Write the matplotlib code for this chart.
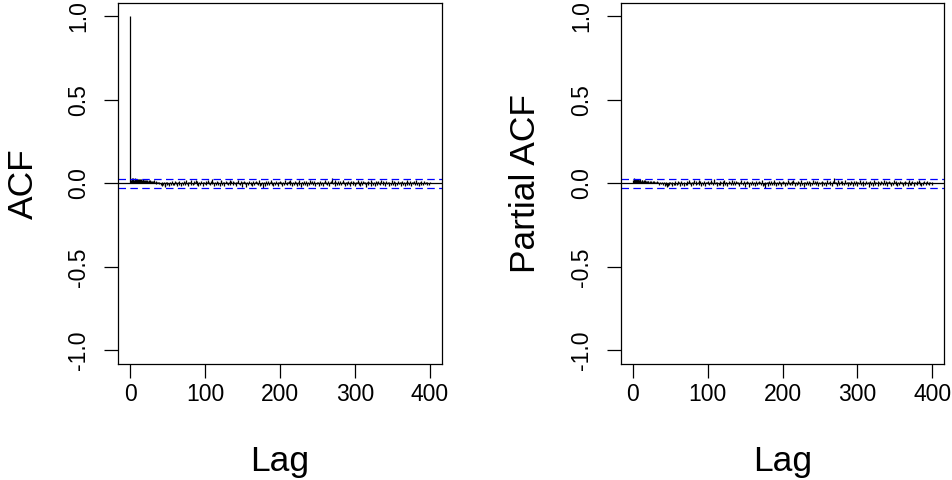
import numpy as np
import matplotlib
matplotlib.use('Agg')
import matplotlib.pyplot as plt

plt.rcParams['font.family'] = ['Liberation Sans', 'DejaVu Sans']

# autocorrelations in thousandths, lags 1..400
acf_milli = [
    20, 32, 26, 30, 22, 28, 31, 24, 27, 29, 22, 28, 25, 18, 26, 20, 24, 17, 22, 19,
    21, 15, 19, 13, 18, 14, 20, 12, 17, 10, 14, 18, 9, 13, -6, 10, 7, -4, 11, 5,
    -10, 8, -16, -7, 10, -19, -13, 7, -8, 11, -5, -14, 8, 4, -11, 13, -7, 5, -10, 14,
    -4, 10, -13, 7, 16, -8, 5, -18, 11, 4, -7, 13, -10, 8, 18, -5, 10, -14, 7, 11,
    -8, 19, 5, -11, 14, -4, 10, 22, -7, 13, -16, 8, 5, -10, 16, 4, -13, 11, 7, -5,
    14, -8, 10, 18, -4, 7, -11, 13, 24, -5, 8, -14, 11, 4, -10, 16, -7, 10, 5, -13,
    13, 21, -8, 7, 11, -18, 5, 14, -4, 10, -11, 8, 19, -7, 13, 4, -10, 16, 7, -5,
    11, -14, 8, 18, -4, 5, -10, 13, 7, -19, 10, 14, -5, 8, -22, 11, 4, -8, 16, 5,
    -7, 10, -16, 13, 5, -11, 8, 14, -4, 7, -10, 18, 5, -13, -10, 8, -30, -5, 10, -14,
    7, 13, -8, 16, 4, -11, 10, 19, -7, 8, -18, 11, 5, -10, 14, -4, 7, -13, 10, 16,
    -5, 8, -14, 11, 5, -8, 18, -4, 10, -11, 7, 13, -7, 21, 8, -16, 5, 11, -10, 14,
    -4, 7, -13, 10, 19, -8, 5, -22, 11, 8, -10, 16, 4, -7, 13, -14, 10, 5, -11, 18,
    7, -5, 14, -10, 8, 13, -18, 5, 11, -4, 10, -13, 16, 7, -8, 11, 4, -14, 8, 19,
    -5, 10, -11, 13, 5, -16, 8, 14, 32, 10, -4, 11, -13, 18, 7, -8, 5, 13, -10, 16,
    4, -11, 10, 19, -5, 8, -14, 11, 7, -8, 14, -4, 10, -18, 13, 5, -10, 16, 7, -13,
    11, -5, 8, 21, -7, 10, -14, 13, 4, -10, 16, 8, -5, 11, -19, 7, 14, -8, 10, 5,
    -13, 18, 7, -10, 11, 4, -16, 13, 8, -7, 14, -4, 10, -11, 19, 5, -8, 13, 7, -14,
    10, 16, -5, 8, -13, 11, 4, -10, 18, 7, -7, 13, -16, 10, 5, -11, 14, 8, -4, 11,
    -14, 7, 16, -8, 10, 5, -13, 11, 19, -7, 8, -10, 14, 4, -16, 10, 7, -5, 13, -11,
    8, 18, -7, 10, -13, 5, 11, -8, 14, 4, -10, 7, 13, -5, 8, -11, 10, 5, -7, 8,
]

# partial autocorrelations in thousandths, lags 1..400
pacf_milli = [
    20, 31, 24, 27, 18, 24, 27, 19, 22, 24, 17, 23, 20, 13, 21, 15, 19, 12, 17, 14,
    16, 10, 14, 9, 13, 10, 16, 8, 13, 7, 11, 15, 6, 10, -8, 8, 5, -6, 9, 4,
    -11, 7, -17, -8, 9, -19, -13, 7, -8, 11, -5, -14, 8, 4, -11, 13, -7, 5, -10, 14,
    -4, 10, -13, 7, 16, -8, 5, -18, 11, 4, -7, 13, -10, 8, 18, -5, 10, -14, 7, 11,
    -8, 19, 5, -11, 14, -4, 10, 22, -7, 13, -16, 8, 5, -10, 16, 4, -13, 11, 7, -5,
    14, -8, 10, 18, -4, 7, -11, 13, 24, -5, 8, -14, 11, 4, -10, 16, -7, 10, 5, -13,
    13, 21, -8, 7, 11, -18, 5, 14, -4, 10, -11, 8, 19, -7, 13, 4, -10, 16, 7, -5,
    11, -14, 8, 18, -4, 5, -10, 13, 7, -19, 10, 14, -5, 8, -22, 11, 4, -8, 16, 5,
    -7, 10, -16, 13, 5, -11, 8, 14, -4, 7, -10, 18, 5, -13, -10, 8, -29, -5, 10, -14,
    7, 13, -8, 16, 4, -11, 10, 19, -7, 8, -18, 11, 5, -10, 14, -4, 7, -13, 10, 16,
    -5, 8, -14, 11, 5, -8, 18, -4, 10, -11, 7, 13, -7, 21, 8, -16, 5, 11, -10, 14,
    -4, 7, -13, 10, 19, -8, 5, -22, 11, 8, -10, 16, 4, -7, 13, -14, 10, 5, -11, 18,
    7, -5, 14, -10, 8, 13, -18, 5, 11, -4, 10, -13, 16, 7, -8, 11, 4, -14, 8, 19,
    -5, 10, -11, 13, 5, -16, 8, 14, 31, 10, -4, 11, -13, 18, 7, -8, 5, 13, -10, 16,
    4, -11, 10, 19, -5, 8, -14, 11, 7, -8, 14, -4, 10, -18, 13, 5, -10, 16, 7, -13,
    11, -5, 8, 21, -7, 10, -14, 13, 4, -10, 16, 8, -5, 11, -19, 7, 14, -8, 10, 5,
    -13, 18, 7, -10, 11, 4, -16, 13, 8, -7, 14, -4, 10, -11, 19, 5, -8, 13, 7, -14,
    10, 16, -5, 8, -13, 11, 4, -10, 18, 7, -7, 13, -16, 10, 5, -11, 14, 8, -4, 11,
    -14, 7, 16, -8, 10, 5, -13, 11, 19, -7, 8, -10, 14, 4, -16, 10, 7, -5, 13, -11,
    8, 18, -7, 10, -13, 5, 11, -8, 14, 4, -10, 7, 13, -5, 8, -11, 10, 5, -7, 8,
]

conf_bound = 0.025
x_ticks = [0, 100, 200, 300, 400]
y_ticks = [-1.0, -0.5, 0.0, 0.5, 1.0]

acf_lags = np.arange(0, len(acf_milli) + 1)
acf_vals = np.concatenate([[1.0], np.array(acf_milli) / 1000.0])
pacf_lags = np.arange(1, len(pacf_milli) + 1)
pacf_vals = np.array(pacf_milli) / 1000.0

fig = plt.figure(figsize=(9.52, 4.8), dpi=100)
ax1 = fig.add_axes([0.124, 0.242, 0.340, 0.752])
ax2 = fig.add_axes([0.652, 0.242, 0.340, 0.752])


def draw_panel(ax, lags, vals, ylabel):
    ax.vlines(lags, 0, vals, color='black', lw=0.9)
    ax.axhline(0, color='black', lw=0.9)
    ax.axhline(conf_bound, color='#0000ff', lw=0.9, ls=(0, (6, 3.5)))
    ax.axhline(-conf_bound, color='#0000ff', lw=0.9, ls=(0, (6, 3.5)))
    ax.set_xlim(-16, 416)
    ax.set_ylim(-1.08, 1.08)
    ax.set_xticks(x_ticks)
    ax.set_xticklabels([str(t) for t in x_ticks])
    ax.set_yticks(y_ticks)
    ax.set_yticklabels(['%.1f' % t for t in y_ticks], rotation=90, va='center')
    ax.tick_params(length=10, width=0.9, labelsize=16.5, direction='out')
    ax.tick_params(axis='x', pad=4)
    ax.tick_params(axis='y', pad=10)
    ax.set_xlabel('Lag', fontsize=25.5, labelpad=28)
    ax.set_ylabel(ylabel, fontsize=25.5, labelpad=20)
    for s in ax.spines.values():
        s.set_linewidth(0.9)


draw_panel(ax1, acf_lags, acf_vals, 'ACF')
draw_panel(ax2, pacf_lags, pacf_vals, 'Partial ACF')

fig.savefig('out.png', dpi=100)
